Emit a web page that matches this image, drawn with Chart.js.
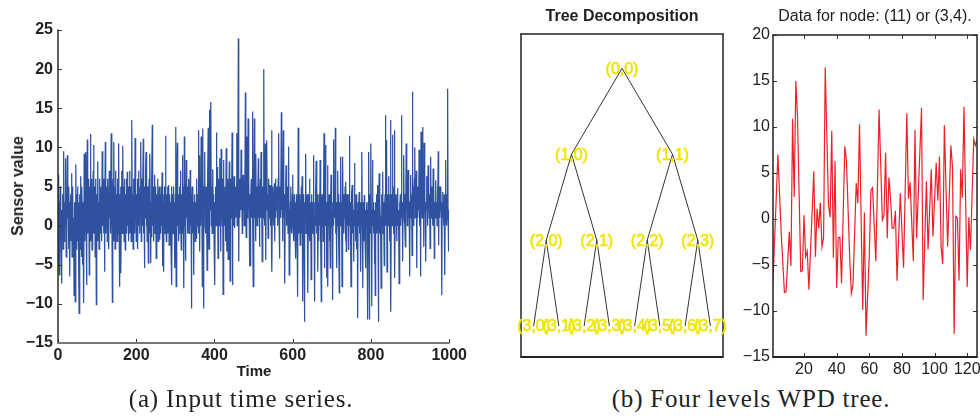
<!DOCTYPE html>
<html><head><meta charset="utf-8">
<script src="https://cdn.jsdelivr.net/npm/chart.js@4.4.1/dist/chart.umd.min.js"></script>
<style>
html,body{margin:0;padding:0;width:980px;height:420px;overflow:hidden;background:#fff;}
.box{position:absolute;}
.t{position:absolute;white-space:nowrap;font-family:"Liberation Sans",Arial,sans-serif;color:#222;transform:translate(-50%,-50%);line-height:1;}
.cap{position:absolute;white-space:nowrap;font-family:"Liberation Serif","Times New Roman",serif;font-size:25px;letter-spacing:0.8px;color:#222;transform:translate(-50%,-50%);line-height:1;}
</style></head><body>
<div class="box" style="left:0;top:0;width:470px;height:380px"><canvas id="c1" width="470" height="380"></canvas></div>
<div class="box" style="left:500px;top:0;width:240px;height:380px"><canvas id="c2" width="240" height="380"></canvas></div>
<div class="box" style="left:740px;top:0;width:260px;height:380px"><canvas id="c3" width="260" height="380"></canvas></div>
<div class="t" style="left:18px;top:186px;font-weight:bold;font-size:16px;transform:translate(-50%,-50%) rotate(-90deg)">Sensor value</div>
<div class="t" style="left:254px;top:370px;font-weight:bold;font-size:15px">Time</div>
<div class="t" style="left:622px;top:16px;font-weight:bold;font-size:16px">Tree Decomposition</div>
<div class="t" style="left:875px;top:16px;font-size:16px">Data for node: (11) or (3,4).</div>
<div class="cap" style="left:241px;top:398px">(a) Input time series.</div>
<div class="cap" style="left:751px;top:398px">(b) Four levels WPD tree.</div>
<script>
// ---- Panel (a): input time series (index 0..999) ----
const sensorValues = [
0.5,-5.5,6.5,-6.3,3,-2,5,1,-3,-7.4,2,-1,4,-3,1,9.5,-2,3,0,5,8.6,-4,2,-1,9,
1,4,-3,5,0,-6.5,3,-2,4,-1,6.7,-4,2,5,-3,1,-8.9,3,-2,-9.7,2,7.8,-3,4,0,
5,-2,3,-6,-11.2,1,4,-3,6.3,0,-4,5,2,-5,3,0,-9.9,9.2,1,-2,4,9.4,0,-7.6,3,
11,-1,4,2,6,-6.3,2,5,11.7,-2,3,6,-3.1,4,1,7,10.3,-1,3,5,-4,2,6,-10.1,1,
4,-2,8.2,0,3,-3,6,1,4,-1,5,2,-2,9.5,0,3,6,-1,4,-5.9,2,10.7,-1,5,1,
3,-2,6,0,4,-3,7,1,5,-1,3,11.8,0,4,-9.8,2,6,-2,10.7,1,5,-3,3,7,0,
4,-2,6,2,-1,10.5,1,4,-7.8,3,5,-6.1,2,7,-1,4,10.2,0,5,-2,6,1,-3.1,4,2,
6,-1,6.9,0,4,-2,5,1,7,-1,3,5,-2,2,13.5,0,4,-3,6,1,3,-1,11.2,2,5,
-2,4,1,6,-3,3,7,0,4,-1,5,2,10.7,-2,3,6,0,4,11.1,-1,2,-5.4,5,1,7,
9.4,0,3,-2,5,1,-4.8,4,6,-1,9.2,2,-4.8,3,-1.5,6,12.9,0,4,-2,5,1,6.5,-1,3,
5,-4.2,2,4,0,6,-2,3,1,5,-1.8,4,2,-1,5,0,6.8,-5.2,3,1,-5.9,4,0,5,-1,
11.5,2,-2,4,1,5,-1,3,5.2,-2.5,2,4,0,3,-3,5,-7.6,2,4,-1,5,1,3,-2,-5.4,
4,12.6,-7.8,2,5,10.6,0,3,-2,4,1,5,-1,7,2,-3.1,4,1,9,-1,3,5,-8,11.4,0,
3,-4.5,2,8.4,1,4,-1,5,2,6,-1,3,1,7.1,0,4,-10.6,2,5,-1,5,1,-6.3,3,0,
4,-2,3,-1.6,2,6,0,4,1,12.2,-1,9,-3.3,3,5,0,11.4,2,4,-7.8,12.4,1,-10.6,3,5,
9.4,0,4,-1,5,2,-5.7,3,6,12.5,1,-3,5,14.8,2,4,15.8,0,5,-1,3,7.2,1,4,-2,
3,-7.6,2,5,0,11.9,1,4,7.5,-4.2,3,6,0,8.6,2,5,-3.3,9.8,1,4,0,6,-8.8,8.4,2,
4,0,5,2,-2,9.9,-3.3,3,6,1,-4.3,4,2,8.2,0,-7.1,3,6,1,4,11.9,-7.6,2,5,0,
6.3,2,-0.3,4,1,5,2,11.8,0,4,3,23.9,-4.6,3,6,1,5,2,9.7,3,5,-1,4,6.5,2,
5,0,4,2,17,3,-1.5,5,11.4,1,4,13.7,2,6,0,-5.2,4,-5.2,3,6,1,4,14.6,2,-7.8,
3,6,13.7,1,4,-2,9.2,2,5,0,4,2,8.6,1,5,-2.7,3,6,1,9.4,2,4,-4.6,3,5,
1,20,2,5,0,10.5,-4.4,3,5,10.9,2,4,-1.6,3,6,1,4,5.2,0,3,1,12.2,-5.9,3,5,
2,4,0,5.4,-2,3,6,1,4,2,5,0,3,6,11.8,1,-4.2,3,5,1,4,14.5,2,5,-2,
3,12.2,1,4,2,-7.4,3,5,7.7,0,3,1,5,-1,3,10.1,-6.3,2,-4.6,3,5,0,3,-1,4,
6.5,0,2,-2,4,1,-1,3,-4.2,2,4,0,3,-9.1,12.5,1,-1,4,2,-2.5,3,0,5,-1,6.3,
1,-9.7,2,4,0,-12.3,3,1,9.2,-1,3,0,4,-2,-8.6,2,4,0,6,-2,3,1,-6.9,2,4,
-1,3,0,9,1,-2,-9.7,3,0,4,8.3,-1,2,4,-5.9,1,3,-2,4,0,8.4,1,-2,-9.7,2,
4,0,3,-2,5,11.8,-5.4,2,4,10.3,0,3,-6.7,2,7.7,-7.8,3,0,4,-2,1,-5.4,3,6.5,0,
2,-1,-9.5,3,11,0,4,1,3,12.5,-1,2,-5.4,3,0,7,1,4,-2,-8.6,3,0,5,8.8,1,
3,-7.8,2,8.8,0,4,-1,3,1,5,-2,5.6,-3.3,2,4,0,3,1,-3.1,4,11.5,0,3,-2,-7.8,
2,4,5.2,-1,3,1,-4.6,2,8,0,3,-2,4,1,-3,2,-11.8,3,0,2,4.3,-1,3,0,-5.9,
2,4,9.4,0,-8,3,1,-2,3.9,1,-2,-5.4,2,0,3,-1,2,-12,3,9.4,1,-12,2,4,-1,
10.5,1,-10.3,2,8.4,0,3,-1,2,-4.9,1,-8.9,3,0,4,-1,2,5.2,0,-12.3,2,6.7,-1,3,1,
-2,-8,2,4,0,6.9,-1,3,1,-5.1,2,4,14.1,0,3,10.9,-5.9,2,4,0,6.3,1,3,-2,4,
13.5,-11,2,4,0,11.6,1,3,-1,5,12.2,-6.7,2,4,0,3,-2,4,4.8,0,2,-1,-7.4,3,1,
4,0,3,14.1,1,3,-4.6,2,5,9,1,4,0,-2.7,3,10.5,2,5,0,3,7.1,1,4,0,-6.5,
3,5,6.5,1,4,-3.8,17.1,2,5,0,3,6,10,1,4,2,7,-5.4,3,5,1,4,2,9.7,0,
3,5,-6.5,12,2,4,1,12.6,3,5,-2.7,10.6,2,4,1,-4.6,3,6.3,2,5,0,7.7,3,5,1,
4,-2.9,3,8.8,1,5,2,4,0,7.3,2,5,-4.2,3,1,4,5.8,1,3,0,5,2,9.5,-2.5,3,
5,1,4,2,5,0,-8.9,3,4.3,1,3,0,4,2,-6.3,3,8.4,1,4,0,3,17.5,2,-3.3,1
];
const timeTicks = [0,200,400,600,800,1000];
const sensorTicks = [-15,-10,-5,0,5,10,15,20,25];

// ---- Panel (b) left: WPD tree, 4 levels ----
const treeLevels = [0,1,2,3];

// ---- Panel (b) right: data for node (3,4) ----
const nodeIndex = [1,4,6,8,9,11,12,13,14,15,16,18,19,20,21,22,23,26,27,28,29,30,31,32,33,35,36,37,38,39,40,41,42,43,45,46,48,49,50,52,53,54,56,57,58,60,61,62,64,66,68,69,70,71,72,73,74,75,76,77,79,81,83,84,85,87,88,89,92,93,95,96,98,99,101,102,103,104,105,106,108,110,111,112,113,114,115,116,117,118,120,121,122,124,125,126];
const nodeValues = [-6.8,7.0,-1.4,-8.0,-7.9,-1.4,-5.1,10.9,2.4,15.0,11.2,-5.7,-5.6,0.4,-4.1,-3.5,-7.7,5.2,-4.1,1.1,-1.0,1.8,-3.0,-2.0,16.5,1.5,0.2,9.6,-4.2,6.3,-7.5,-2.0,-2.0,-7.0,7.9,6.4,-4.2,-8.1,-7.2,3.9,1.7,10.3,-9.9,0.7,-12.7,-3.9,3.1,3.4,-4.6,11.9,-0.1,0.4,7.2,-2.1,4.5,2.3,-1.0,-1.0,0.9,-6.7,2.8,-5.3,11.5,2.2,4.0,-4.6,9.7,-2.1,12.1,-8.8,4.1,-3.3,5.4,-1.9,6.1,2.0,6.8,-3.0,-4.9,10.2,-3.0,8.0,5.6,-12.5,0.3,0.1,-6.7,5.4,2.3,12.2,-7.4,0.2,-3.4,8.7,8.0,8.5];
const nodeTicksX = [20,40,60,80,100,120];
const nodeTicksY = [-15,-10,-5,0,5,10,15,20];

const SANS = '"Liberation Sans", Arial, sans-serif';
const minus = v => String(v).replace('-', '\u2212');

const frameTicks = {
  id: 'frameTicks',
  afterDatasetsDraw(chart, args, o) {
    if (!o || !o.enabled) return;
    const ctx = chart.ctx, a = chart.chartArea;
    const xs = chart.scales.x, ys = chart.scales.y;
    ctx.save();
    ctx.lineCap = 'butt';
    if (o.len > 0) {
      ctx.strokeStyle = o.tickColor; ctx.lineWidth = o.tickWidth;
      ctx.beginPath();
      xs.ticks.forEach(t => {
        const p = Math.round(xs.getPixelForValue(t.value)) + 0.5;
        if (o.tickSides.includes('bottom')) { ctx.moveTo(p, a.bottom); ctx.lineTo(p, a.bottom - o.len); }
        if (o.tickSides.includes('top')) { ctx.moveTo(p, a.top); ctx.lineTo(p, a.top + o.len); }
      });
      ys.ticks.forEach(t => {
        const p = Math.round(ys.getPixelForValue(t.value)) + 0.5;
        if (o.tickSides.includes('left')) { ctx.moveTo(a.left, p); ctx.lineTo(a.left + o.len, p); }
        if (o.tickSides.includes('right')) { ctx.moveTo(a.right, p); ctx.lineTo(a.right - o.len, p); }
      });
      ctx.stroke();
    }
    o.edges.forEach(e => {
      ctx.strokeStyle = e.color; ctx.lineWidth = e.width;
      ctx.beginPath();
      if (e.side === 'left') { ctx.moveTo(a.left, a.top - 0.5); ctx.lineTo(a.left, a.bottom + 0.5); }
      if (e.side === 'right') { ctx.moveTo(a.right, a.top - 0.5); ctx.lineTo(a.right, a.bottom + 0.5); }
      if (e.side === 'top') { ctx.moveTo(a.left - 0.5, a.top); ctx.lineTo(a.right + 0.5, a.top); }
      if (e.side === 'bottom') { ctx.moveTo(a.left - 0.5, a.bottom); ctx.lineTo(a.right + 0.5, a.bottom); }
      ctx.stroke();
    });
    ctx.restore();
  }
};

// ---- Chart 1 ----
new Chart(document.getElementById('c1'), {
  type: 'line',
  data: { datasets: [{
    data: sensorValues.map((v, i) => ({ x: i, y: v })),
    borderColor: 'rgb(46,82,160)', borderWidth: 1.25, pointRadius: 0, tension: 0
  }]},
  options: {
    responsive: false, animation: false, devicePixelRatio: 1,
    layout: { padding: { left: 0, right: 20, top: 30, bottom: 0 } },
    plugins: { legend: { display: false }, tooltip: { enabled: false },
      frameTicks: { enabled: true, len: 4, tickColor: '#333', tickWidth: 1, tickSides: ['left','bottom'],
        edges: [{ side: 'left', color: '#2a2a2a', width: 1.5 }, { side: 'bottom', color: '#777', width: 2 }] } },
    scales: {
      x: { type: 'linear', min: 0, max: 1000,
        afterBuildTicks: s => { s.ticks = timeTicks.map(v => ({ value: v })); },
        afterFit: s => { s.height = 37; },
        grid: { display: false, drawTicks: false }, border: { display: false },
        ticks: { padding: 3, color: '#222', font: { family: SANS, size: 16, weight: 'bold' }, maxRotation: 0, callback: minus } },
      y: { type: 'linear', min: -15, max: 25,
        afterBuildTicks: s => { s.ticks = sensorTicks.map(v => ({ value: v })); },
        afterFit: s => { s.width = 58; },
        grid: { display: false, drawTicks: false }, border: { display: false },
        ticks: { padding: 5, color: '#222', font: { family: SANS, size: 16, weight: 'bold' }, callback: minus } }
    }
  },
  plugins: [frameTicks]
});

// ---- Chart 2: tree ----
const treeNodes = [];
treeLevels.forEach(l => {
  const n = Math.pow(2, l);
  for (let k = 0; k < n; k++) treeNodes.push({ level: l, k: k, x: (k + 0.5) * 8 / n, y: -l, label: '(' + l + ',' + k + ')' });
});
const treeEdges = [];
treeNodes.forEach(p => {
  if (p.level < treeLevels[treeLevels.length - 1]) {
    treeNodes.filter(c => c.level === p.level + 1 && (c.k === 2 * p.k || c.k === 2 * p.k + 1)).forEach(c => {
      treeEdges.push({ data: [{ x: p.x, y: p.y }, { x: c.x, y: c.y }], borderColor: '#333', borderWidth: 1, pointRadius: 0 });
    });
  }
});
const treeLabels = {
  id: 'treeLabels',
  afterDatasetsDraw(chart) {
    const ctx = chart.ctx, xs = chart.scales.x, ys = chart.scales.y;
    ctx.save();
    ctx.font = '16px ' + SANS;
    ctx.fillStyle = 'rgb(240,228,0)';
    ctx.strokeStyle = 'rgb(240,228,0)';
    ctx.lineWidth = 0.6;
    ctx.textAlign = 'center'; ctx.textBaseline = 'middle';
    treeNodes.forEach(nd => {
      const px = xs.getPixelForValue(nd.x), py = ys.getPixelForValue(nd.y) + 1;
      ctx.fillText(nd.label, px, py);
      ctx.strokeText(nd.label, px, py);
    });
    ctx.restore();
  }
};
new Chart(document.getElementById('c2'), {
  type: 'line',
  data: { datasets: treeEdges },
  options: {
    responsive: false, animation: false, devicePixelRatio: 1,
    layout: { padding: { left: 21, right: 17, top: 34, bottom: 23 } },
    plugins: { legend: { display: false }, tooltip: { enabled: false },
      frameTicks: { enabled: true, len: 0, tickSides: [],
        edges: [{ side: 'left', color: '#222', width: 1.5 }, { side: 'right', color: '#222', width: 1.5 },
                { side: 'top', color: '#222', width: 1.5 }, { side: 'bottom', color: '#222', width: 2 }] } },
    scales: {
      x: { type: 'linear', min: 0, max: 8, display: false },
      y: { type: 'linear', min: -3.36, max: 0.4, display: false }
    }
  },
  plugins: [frameTicks, treeLabels]
});

// ---- Chart 3: node data ----
new Chart(document.getElementById('c3'), {
  type: 'line',
  data: { datasets: [{
    data: nodeIndex.map((x, i) => ({ x: x, y: nodeValues[i] })),
    borderColor: 'rgb(236,32,40)', borderWidth: 1.2, pointRadius: 0, tension: 0
  }]},
  options: {
    responsive: false, animation: false, devicePixelRatio: 1,
    layout: { padding: { left: 0, right: 23, top: 35, bottom: 0 } },
    plugins: { legend: { display: false }, tooltip: { enabled: false },
      frameTicks: { enabled: true, len: 4, tickColor: '#333', tickWidth: 1, tickSides: ['left','bottom','top','right'],
        edges: [{ side: 'left', color: '#222', width: 1.5 }, { side: 'right', color: '#222', width: 1.5 },
                { side: 'top', color: '#222', width: 1.5 }, { side: 'bottom', color: '#222', width: 2 }] } },
    scales: {
      x: { type: 'linear', min: 1, max: 126,
        afterBuildTicks: s => { s.ticks = nodeTicksX.map(v => ({ value: v })); },
        afterFit: s => { s.height = 23; },
        grid: { display: false, drawTicks: false }, border: { display: false },
        ticks: { padding: 3, color: '#222', font: { family: SANS, size: 16 }, maxRotation: 0, callback: minus } },
      y: { type: 'linear', min: -15, max: 20,
        afterBuildTicks: s => { s.ticks = nodeTicksY.map(v => ({ value: v })); },
        afterFit: s => { s.width = 33; },
        grid: { display: false, drawTicks: false }, border: { display: false },
        ticks: { padding: 3, color: '#222', font: { family: SANS, size: 16 }, callback: minus } }
    }
  },
  plugins: [frameTicks]
});
</script>
</body></html>
